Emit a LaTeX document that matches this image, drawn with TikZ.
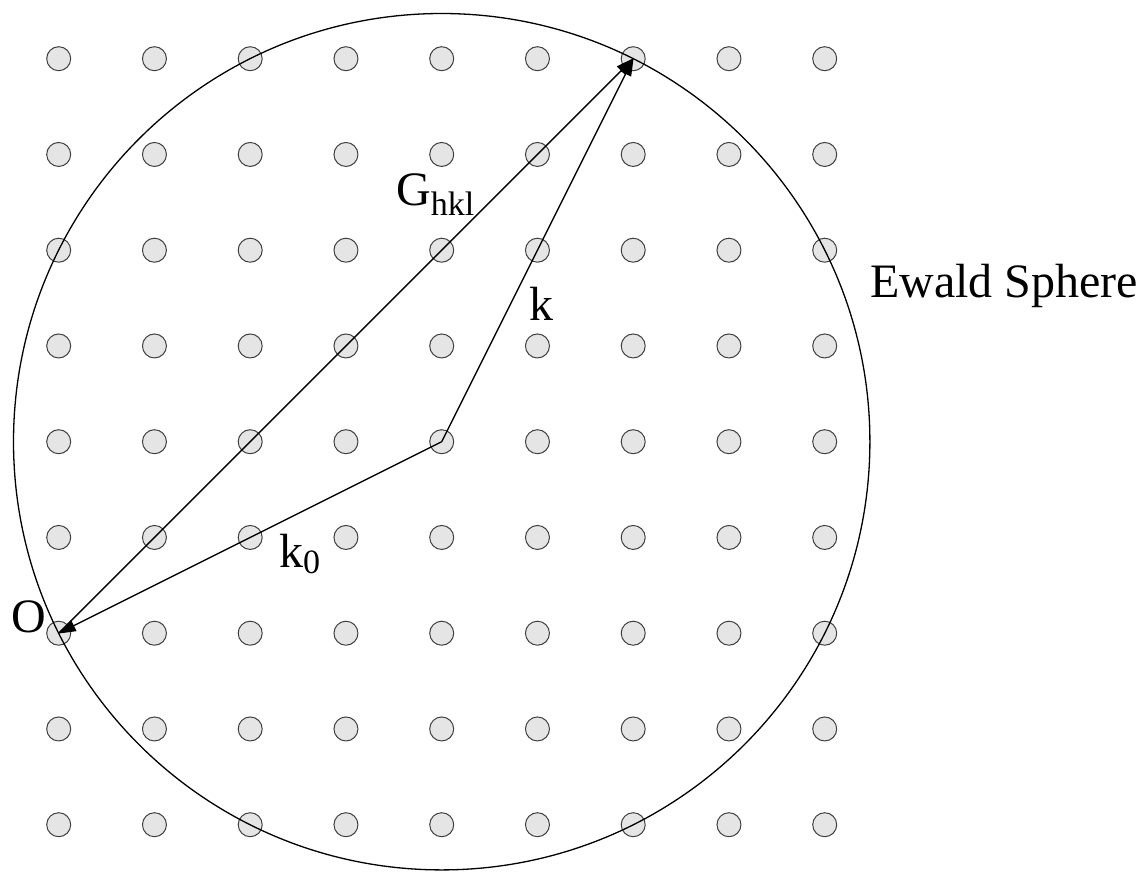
\documentclass[tikz,border=0pt]{standalone}
\usepackage{fontspec}
\setmainfont{Liberation Serif}
\usetikzlibrary{arrows.meta}
\tikzset{
  latticept/.style={circle, draw=black!75, fill=black!10, line width=1pt, minimum size=24pt, inner sep=0pt},
  vec/.style={line width=1.3pt, -{Triangle[length=18pt,width=12pt]}, shorten >=-1pt},
  sphere/.style={line width=1.3pt},
  lbl/.style={inner sep=0pt, anchor=base west, font=\fontsize{48}{52}\selectfont}
}
\newcommand{\subtxt}[2]{\raisebox{-#1pt}{\fontsize{34}{36}\selectfont #2}}
\begin{document}
\begin{tikzpicture}[x=1pt,y=-1pt]
\useasboundingbox (0,0) rectangle (1148,871);
\foreach \i in {0,...,8}{
  \foreach \j in {0,...,8}{
    \node[latticept] (d-\i-\j) at ({58.7+95.75*\i},{58.7+95.75*\j}) {};
  }
}
\draw[sphere] (d-4-4.center) circle[radius=428.2];
\draw[vec] (d-4-4.center) -- (d-0-6.center);
\draw[vec] (d-4-4.center) -- (d-6-0.center);
\draw[vec] (d-0-6.center) -- (d-6-0.center);
\node[lbl] (ewald) at (870,297) {Ewald Sphere};
\node[lbl] (ghkl) at (396,205) {G\subtxt{10}{hkl}};
\node[lbl] (klbl) at (529,320) {k};
\node[lbl] (k0lbl) at (279,567) {k\subtxt{6}{0}};
\node[lbl] (olbl) at (11,632) {O};
\end{tikzpicture}
\end{document}
